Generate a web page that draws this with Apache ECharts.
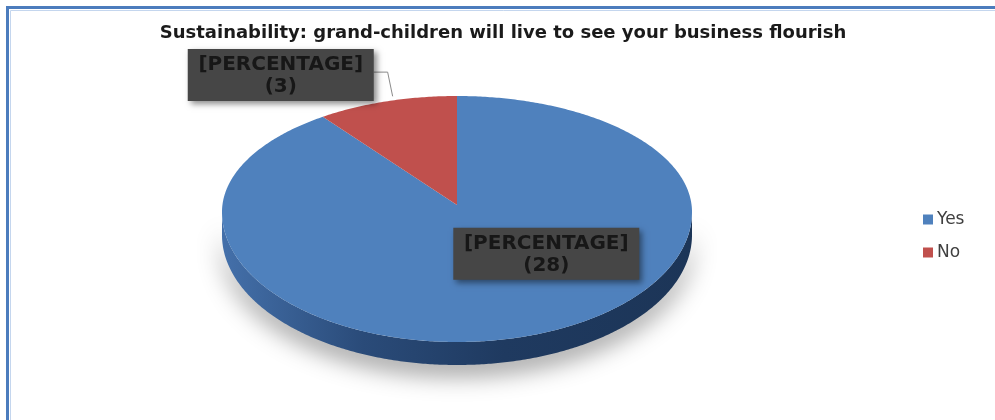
<!DOCTYPE html>
<html>
<head>
<meta charset="utf-8">
<script src="https://cdn.jsdelivr.net/npm/echarts@6/dist/echarts.min.js"></script>
<style>
  html, body { margin: 0; padding: 0; background: #ffffff; }
  #chart { width: 995px; height: 420px; }
</style>
</head>
<body>
<div id="chart"></div>
<script>
// ---- data ----
const categories = ['Yes', 'No'];
const values = [28, 3];
const titleText = 'Sustainability: grand-children will live to see your business flourish';
const labelPrefix = '[PERCENTAGE]';

// ---- styling / layout ----
const topColors = ['#4f81bd', '#c0504d'];
const wallStops = [
  [['#4470aa', 0], ['#2a4b79', 0.3], ['#1f3a60', 0.6], ['#1c3557', 1]],
  [['#8c3a38', 0], ['#6e2c2a', 1]]
];
const FONT = '"DejaVu Sans", "Liberation Sans", sans-serif';

// elliptical pie seen at an angle; front half slightly deeper than the back
const P = { cx: 457, cy: 212, rx: 235, ryBack: 116, ryFront: 130, apexLift: 7, depth: 23 };
// label box centres, in units of the pie radii relative to the pie centre
const labelAnchors = [
  { fx: 0.38, fy: 0.36 },
  { fx: -0.75, fy: -1.18, leader: true }
];
const BOX_W = 186, BOX_H = 52;

const total = values.reduce((a, b) => a + b, 0);
const startAngles = [];
(function () {
  let acc = 0;
  values.forEach(v => { startAngles.push(acc / total * Math.PI * 2); acc += v; });
})();

// angle measured clockwise from 12 o'clock
function edgePoint(theta, drop) {
  const c = Math.cos(theta);
  const ry = c > 0 ? P.ryBack : P.ryFront;
  return [P.cx + P.rx * Math.sin(theta), P.cy - ry * c + (drop || 0)];
}

function arcPoints(a0, a1, drop) {
  const pts = [];
  const n = Math.max(2, Math.ceil((a1 - a0) / 0.01));
  for (let k = 0; k <= n; k++) pts.push(edgePoint(a0 + (a1 - a0) * k / n, drop));
  return pts;
}

function makeRenderer(idx) {
  return function (params, api) {
    const v = api.value(0);
    const a0 = startAngles[idx];
    const a1 = a0 + v / total * Math.PI * 2;
    const apex = [P.cx, P.cy - P.apexLift];
    const children = [];

    // visible front wall: portion of the slice between 3 and 9 o'clock (front side)
    const w0 = Math.max(a0, Math.PI / 2), w1 = Math.min(a1, Math.PI * 1.5);
    if (w1 > w0) {
      const topEdge = arcPoints(w0, w1, 0);
      const botEdge = arcPoints(w0, w1, P.depth).reverse();
      children.push({
        type: 'polygon',
        z2: 0,
        shape: { points: topEdge.concat(botEdge) },
        style: {
          fill: new echarts.graphic.LinearGradient(0, 0, 1, 0,
            wallStops[idx].map(s => ({ color: s[0], offset: s[1] }))),
          shadowColor: 'rgba(0,0,0,0.4)',
          shadowBlur: 24,
          shadowOffsetY: 10
        }
      });
    }

    // top face
    children.push({
      type: 'polygon',
      z2: 1,
      shape: { points: [apex].concat(arcPoints(a0, a1, 0)) },
      style: { fill: topColors[idx] }
    });

    // data label box
    const anc = labelAnchors[idx];
    const bcx = P.cx + anc.fx * P.rx;
    const bcy = P.cy + anc.fy * P.ryBack;
    const bx = bcx - BOX_W / 2, by = bcy - BOX_H / 2;

    if (anc.leader) {
      const mid = edgePoint((a0 + a1) / 2, 0);
      const hy = by + 23;
      children.push({
        type: 'polyline',
        z2: 5,
        shape: { points: [[bx + BOX_W, hy], [mid[0] + 1, hy], [mid[0] + 6, mid[1] - 5]] },
        style: { stroke: '#8a8a8a', lineWidth: 1, fill: null }
      });
    }

    children.push({
      type: 'rect',
      z2: 10,
      shape: { x: bx, y: by, width: BOX_W, height: BOX_H },
      style: {
        fill: '#464646',
        shadowColor: 'rgba(0,0,0,0.45)',
        shadowBlur: 6,
        shadowOffsetX: 3,
        shadowOffsetY: 3
      }
    });
    children.push({
      type: 'text',
      z2: 11,
      style: {
        text: labelPrefix + '\n(' + v + ')',
        x: bcx,
        y: bcy + 1,
        align: 'center',
        verticalAlign: 'middle',
        fill: '#171717',
        font: 'bold 20px ' + FONT,
        lineHeight: 22
      }
    });

    return { type: 'group', children: children };
  };
}

const chart = echarts.init(document.getElementById('chart'), null, { renderer: 'canvas' });

chart.setOption({
  animation: false,
  backgroundColor: '#ffffff',
  legend: {
    data: categories,
    orient: 'vertical',
    left: 918,
    top: 206,
    itemGap: 16,
    icon: 'rect',
    itemWidth: 10,
    itemHeight: 10,
    itemStyle: { borderWidth: 0 },
    textStyle: { fontFamily: FONT, fontSize: 17, color: '#404040', padding: [0, 0, 0, -1] }
  },
  graphic: [
    {
      type: 'rect',
      silent: true,
      shape: { x: 7.5, y: 7.5, width: 1020, height: 440 },
      style: { fill: null, stroke: '#4c7cbd', lineWidth: 3 }
    },
    {
      type: 'rect',
      silent: true,
      shape: { x: 10.5, y: 10.5, width: 1020, height: 440 },
      style: { fill: null, stroke: '#c4d6ee', lineWidth: 1 }
    },
    {
      type: 'text',
      silent: true,
      style: {
        text: titleText,
        x: 503,
        y: 33,
        align: 'center',
        verticalAlign: 'middle',
        fill: '#1a1a1a',
        font: 'bold 18px ' + FONT
      }
    }
  ],
  series: categories.map((name, i) => ({
    type: 'custom',
    name: name,
    coordinateSystem: 'none',
    z: 2 + i,
    itemStyle: { color: topColors[i] },
    renderItem: makeRenderer(i),
    data: [[values[i]]]
  }))
});
</script>
</body>
</html>
